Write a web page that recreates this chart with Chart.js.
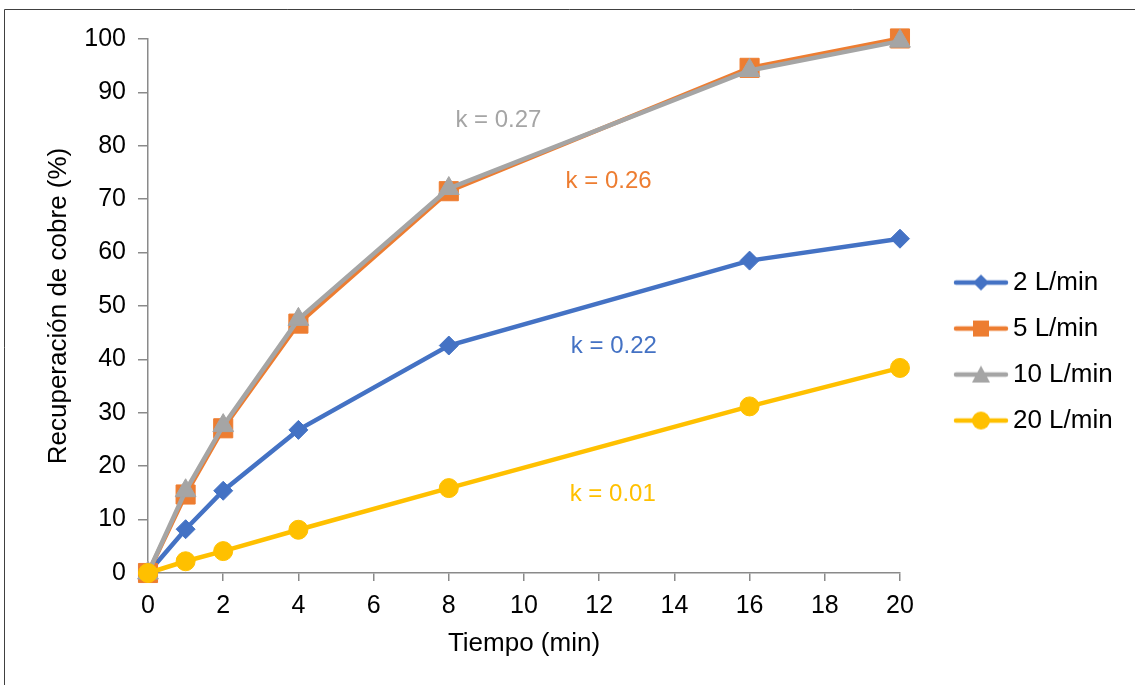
<!DOCTYPE html>
<html>
<head>
<meta charset="utf-8">
<script src="https://cdn.jsdelivr.net/npm/chart.js@4.4.1/dist/chart.umd.min.js"></script>
<style>
  html, body { margin: 0; padding: 0; background: #fff; }
  canvas { display: block; }
</style>
</head>
<body>
<canvas id="grafico" width="1135" height="685"></canvas>
<script>
// datos
const tiempo = [0, 1, 2, 4, 8, 16, 20];
const rec2 = [0, 8.2, 15.4, 26.8, 42.6, 58.5, 62.6];
const rec5 = [0, 14.7, 27.1, 46.7, 71.5, 94.6, 100.1];
const rec10 = [0, 15.4, 27.6, 47.5, 72.0, 94.1, 99.6];
const rec20 = [0, 2.2, 4.1, 8.1, 15.9, 31.2, 38.4];

const series = ['2 L/min', '5 L/min', '10 L/min', '20 L/min'];
const xTicks = [0, 2, 4, 6, 8, 10, 12, 14, 16, 18, 20];
const yTicks = [0, 10, 20, 30, 40, 50, 60, 70, 80, 90, 100];

// etiquetas k (posicion en unidades del grafico)
const kTextos = ['k = 0.22', 'k = 0.26', 'k = 0.27', 'k = 0.01'];
const kX = [12.39, 12.25, 9.32, 12.36];
const kY = [42.5, 73.3, 84.8, 14.8];

const colores = ['#4472C4', '#ED7D31', '#A5A5A5', '#FFC000'];
const estilos = ['rectRot', 'rect', 'triangle', 'circle'];
const radios = [9.5, 13.5, 12, 9.5];

Chart.defaults.font.family = '"Liberation Sans", Arial, sans-serif';
Chart.defaults.color = '#000';

function iconoLeyenda(color, estilo) {
  const c = document.createElement('canvas');
  c.width = 56; c.height = 22;
  const g = c.getContext('2d');
  g.strokeStyle = color;
  g.lineWidth = 4.5;
  g.lineCap = 'round';
  g.beginPath(); g.moveTo(3, 11); g.lineTo(53, 11); g.stroke();
  g.fillStyle = color;
  g.beginPath();
  if (estilo === 'rectRot') {
    g.moveTo(28, 3); g.lineTo(36, 11); g.lineTo(28, 19); g.lineTo(20, 11);
  } else if (estilo === 'rect') {
    g.rect(20, 3, 16, 16);
  } else if (estilo === 'triangle') {
    g.moveTo(28, 2); g.lineTo(37, 19); g.lineTo(19, 19);
  } else {
    g.arc(28, 11, 9, 0, Math.PI * 2);
  }
  g.closePath();
  g.fill();
  return c;
}
const iconos = colores.map((c, i) => iconoLeyenda(c, estilos[i]));

const valores = [rec2, rec5, rec10, rec20];
const datasets = series.map((nombre, i) => ({
  label: nombre,
  data: tiempo.map((t, j) => ({ x: t, y: valores[i][j] })),
  borderColor: colores[i],
  backgroundColor: colores[i],
  borderWidth: 4.5,
  pointStyle: estilos[i],
  pointRadius: radios[i],
  pointBorderWidth: 1,
  pointBorderColor: colores[i],
  pointBackgroundColor: colores[i],
  tension: 0,
  clip: false,
  order: 3 - i
}));

const marco = {
  id: 'marco',
  beforeDraw(chart) {
    const ctx = chart.ctx;
    ctx.save();
    ctx.strokeStyle = '#404040';
    ctx.lineWidth = 1;
    ctx.beginPath();
    ctx.moveTo(4.5, chart.height);
    ctx.lineTo(4.5, 9.5);
    ctx.lineTo(chart.width, 9.5);
    ctx.stroke();
    ctx.restore();
  }
};

const ajusteLeyenda = {
  id: 'ajusteLeyenda',
  afterLayout(chart) {
    const lg = chart.legend;
    lg.left += 42; lg.right += 42;
  }
};

const etiquetasK = {
  id: 'etiquetasK',
  afterDatasetsDraw(chart) {
    const ctx = chart.ctx;
    const xs = chart.scales.x, ys = chart.scales.y;
    ctx.save();
    ctx.font = '24px "Liberation Sans", Arial, sans-serif';
    ctx.textAlign = 'center';
    ctx.textBaseline = 'middle';
    kTextos.forEach((t, i) => {
      ctx.fillStyle = colores[i];
      ctx.fillText(t, xs.getPixelForValue(kX[i]), ys.getPixelForValue(kY[i]));
    });
    ctx.restore();
  }
};

new Chart(document.getElementById('grafico'), {
  type: 'line',
  data: { datasets: datasets },
  options: {
    responsive: false,
    animation: false,
    layout: {
      padding: { left: 42.3, right: 54.3, top: 39, bottom: 20.9 }
    },
    plugins: {
      legend: {
        position: 'right',
        labels: {
          usePointStyle: true,
          pointStyleWidth: 38,
          boxHeight: 20,
          padding: 20,
          color: '#000',
          font: { size: 26 },
          generateLabels: chart => chart.data.datasets.map((ds, i) => ({
            text: ds.label,
            pointStyle: iconos[i],
            fillStyle: ds.borderColor,
            strokeStyle: ds.borderColor,
            lineWidth: 0,
            hidden: false,
            datasetIndex: i,
            fontColor: '#000'
          }))
        }
      },
      tooltip: { enabled: false }
    },
    scales: {
      x: {
        type: 'linear',
        min: 0,
        max: 20,
        afterBuildTicks: s => { s.ticks = xTicks.map(v => ({ value: v })); },
        grid: { drawOnChartArea: false, drawTicks: true, tickLength: 8, color: '#8a8a8a', lineWidth: 1.5 },
        border: { color: '#8a8a8a', width: 1.5 },
        ticks: { padding: 11, font: { size: 25, lineHeight: 1.1 }, color: '#000', maxRotation: 0, autoSkip: false },
        title: { display: true, text: 'Tiempo (min)', font: { size: 26, lineHeight: 1 }, color: '#000', padding: { top: 0, bottom: 7.6 } }
      },
      y: {
        min: 0,
        max: 100,
        afterBuildTicks: s => { s.ticks = yTicks.map(v => ({ value: v })); },
        grid: { drawOnChartArea: false, drawTicks: true, tickLength: 10, color: '#8a8a8a', lineWidth: 1.5 },
        border: { color: '#8a8a8a', width: 1.5 },
        ticks: { padding: 12, font: { size: 25 }, color: '#000', autoSkip: false },
        title: { display: true, text: 'Recuperación de cobre (%)', font: { size: 26, lineHeight: 1 }, color: '#000', padding: { top: 4, bottom: 0 } }
      }
    }
  },
  plugins: [marco, ajusteLeyenda, etiquetasK]
});
</script>
</body>
</html>
